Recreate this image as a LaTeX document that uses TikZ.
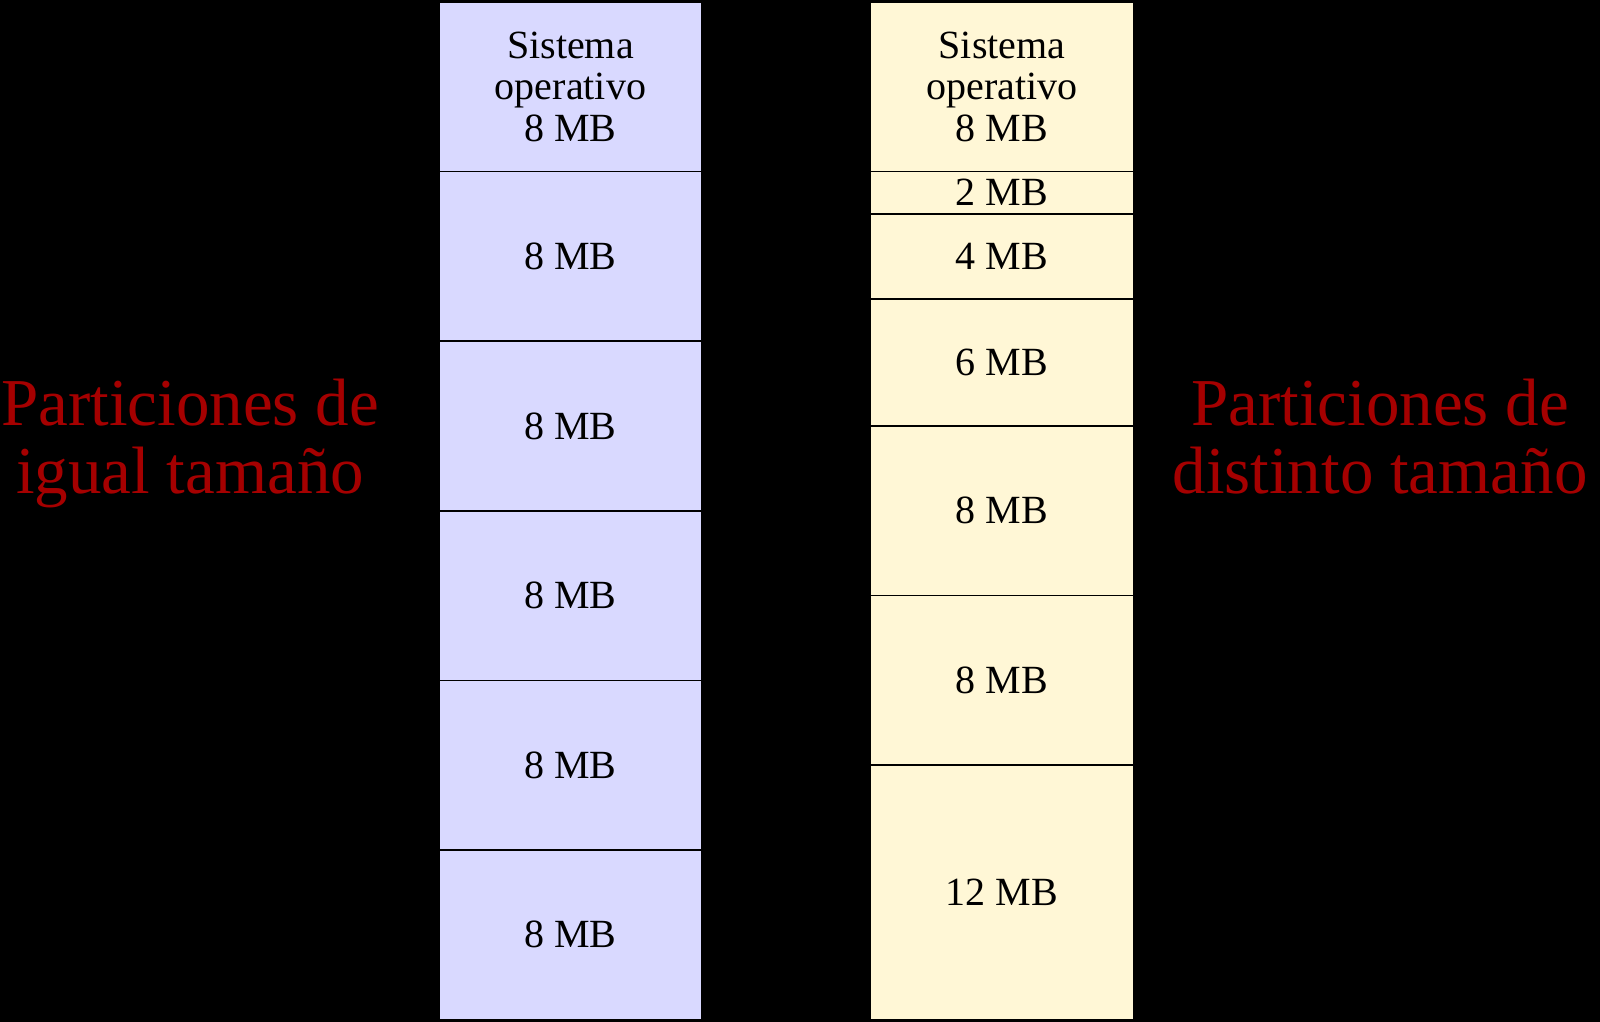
\documentclass[tikz,border=0pt]{standalone}
\usepackage{fontspec}
\setmainfont{Liberation Serif}
\definecolor{lav}{RGB}{217,217,255}
\definecolor{cream}{RGB}{255,247,214}
\definecolor{darkred}{RGB}{165,0,0}
\begin{document}
\begin{tikzpicture}[x=1pt,y=-1pt,
  part/.style={draw=black,line width=1.6pt,minimum width=263pt,inner sep=0pt,align=center,font=\fontsize{40}{41.5}\selectfont},
  eqpart/.style={part,fill=lav},
  varpart/.style={part,fill=cream},
  redlabel/.style={text=darkred,inner sep=0pt,anchor=base,font=\fontsize{67}{68}\selectfont}]
\fill[black] (0,0) rectangle (1600,1022);
\useasboundingbox (0,0) rectangle (1600,1022);
% left column: equal partitions (8 MB = 169.6 px)
\node[eqpart,minimum height=169.6pt] (l0) at (570.5,86.8) {Sistema\\operativo\\8 MB};
\node[eqpart,minimum height=169.6pt] (l1) at (570.5,256.4) {8 MB};
\node[eqpart,minimum height=169.6pt] (l2) at (570.5,426.0) {8 MB};
\node[eqpart,minimum height=169.6pt] (l3) at (570.5,595.6) {8 MB};
\node[eqpart,minimum height=169.6pt] (l4) at (570.5,765.2) {8 MB};
\node[eqpart,minimum height=169.6pt] (l5) at (570.5,934.8) {8 MB};
% right column: unequal partitions (21.2 px per MB)
\node[varpart,minimum height=169.6pt] (r0) at (1002,86.8) {Sistema\\operativo\\8 MB};
\node[varpart,minimum height=42.4pt] (r1) at (1002,192.8) {2 MB};
\node[varpart,minimum height=84.8pt] (r2) at (1002,256.4) {4 MB};
\node[varpart,minimum height=127.2pt] (r3) at (1002,362.4) {6 MB};
\node[varpart,minimum height=169.6pt] (r4) at (1002,510.8) {8 MB};
\node[varpart,minimum height=169.6pt] (r5) at (1002,680.4) {8 MB};
\node[varpart,minimum height=254.4pt] (r6) at (1002,892.4) {12 MB};
% labels
\node[redlabel] (t1a) at (190,425) {Particiones de};
\node[redlabel] (t1b) at (190,493) {igual tamaño};
\node[redlabel] (t2a) at (1380,425) {Particiones de};
\node[redlabel] (t2b) at (1380,493) {distinto tamaño};
\end{tikzpicture}
\end{document}
